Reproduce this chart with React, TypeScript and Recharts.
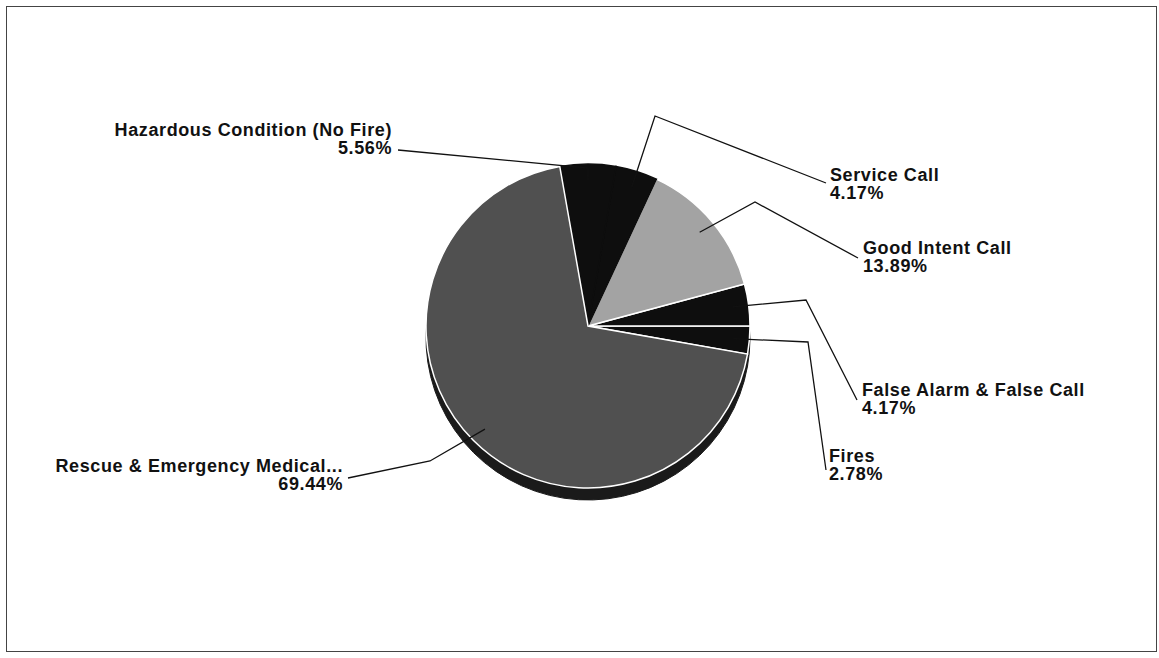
import React from 'react'
import { PieChart, Pie, Cell } from 'recharts'

// incident types, counter-clockwise from just below 3 o'clock
const categories = [
  'Fires',
  'False Alarm & False Call',
  'Good Intent Call',
  'Service Call',
  'Hazardous Condition (No Fire)',
  'Rescue & Emergency Medical...',
]
const percents = [2.78, 4.17, 13.89, 4.17, 5.56, 69.44]
const sliceColors = ['#0e0e0e', '#0e0e0e', '#a3a3a3', '#0e0e0e', '#0e0e0e', '#505050']
const sliceEdges = ['#fff', '#fff', '#fff', '#0e0e0e', '#0e0e0e', '#fff']

const data = categories.map((name, i) => ({ name, value: percents[i] }))

// label placement relative to the pie centre
const labelLayout: Record<string, { tx: number; ty: number; anchor: 'start' | 'end'; elbow: [number, number]; end: [number, number] }> = {
  'Hazardous Condition (No Fire)': { tx: -196, ty: -190, anchor: 'end', elbow: [0, -158], end: [-190, -176] },
  'Service Call': { tx: 242, ty: -145, anchor: 'start', elbow: [67, -210], end: [238, -143] },
  'Good Intent Call': { tx: 275, ty: -72, anchor: 'start', elbow: [167, -124], end: [270, -68] },
  'False Alarm & False Call': { tx: 274, ty: 70, anchor: 'start', elbow: [218, -26], end: [269, 74] },
  Fires: { tx: 241, ty: 136, anchor: 'start', elbow: [220, 16], end: [238, 144] },
  'Rescue & Emergency Medical...': { tx: -245, ty: 146, anchor: 'end', elbow: [-158, 135], end: [-240, 152] },
}

const RAD = Math.PI / 180

function renderLabel(props: any) {
  const { cx, cy, midAngle, outerRadius, index } = props
  const name = categories[index]
  const l = labelLayout[name]
  const r = outerRadius * 0.9
  const sx = cx + r * Math.cos(-midAngle * RAD)
  const sy = cy + r * Math.sin(-midAngle * RAD)
  const pts = `${sx},${sy} ${cx + l.elbow[0]},${cy + l.elbow[1]} ${cx + l.end[0]},${cy + l.end[1]}`
  return (
    <g>
      <polyline points={pts} fill="none" stroke="#111" strokeWidth={1.3} />
      <text
        x={cx + l.tx}
        y={cy + l.ty}
        textAnchor={l.anchor}
        fontFamily="Liberation Sans, Arial, sans-serif"
        fontWeight="bold"
        fontSize={18}
        letterSpacing={0.6}
        fill="#111"
      >
        <tspan x={cx + l.tx} dy={0}>{name}</tspan>
        <tspan x={cx + l.tx} dy={18}>{percents[index].toFixed(2)}%</tspan>
      </text>
    </g>
  )
}

export default function App() {
  return (
    <div
      style={{
        position: 'absolute',
        left: 6,
        top: 6,
        width: 1149,
        height: 644,
        border: '1px solid #444',
        background: '#fff',
      }}
    >
      <PieChart width={1149} height={644} margin={{ top: 0, right: 0, bottom: 0, left: 0 }}>
        {/* depth under the pie */}
        <Pie
          data={data}
          dataKey="value"
          cx={581}
          cy={331}
          outerRadius={162}
          startAngle={-10}
          endAngle={350}
          fill="#1a1a1a"
          stroke="#1a1a1a"
          isAnimationActive={false}
        />
        <Pie
          data={data}
          dataKey="value"
          cx={581}
          cy={319}
          outerRadius={162}
          startAngle={-10}
          endAngle={350}
          strokeWidth={1.5}
          label={renderLabel}
          labelLine={false}
          isAnimationActive={false}
        >
          {data.map((d, i) => (
            <Cell key={d.name} fill={sliceColors[i]} stroke={sliceEdges[i]} />
          ))}
        </Pie>
      </PieChart>
    </div>
  )
}
